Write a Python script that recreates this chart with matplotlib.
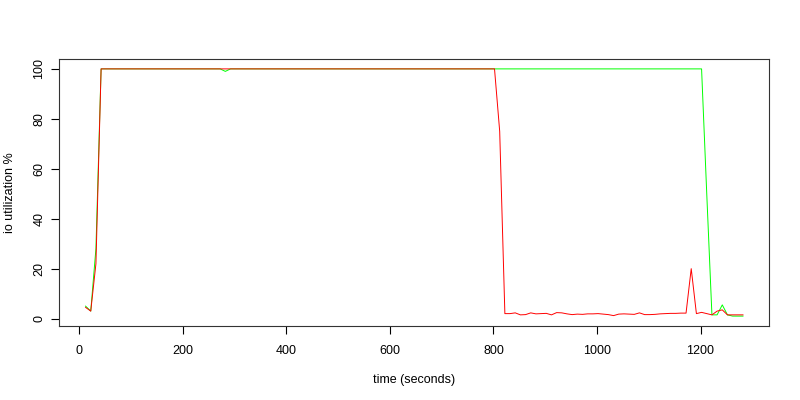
import matplotlib
matplotlib.use("Agg")
import matplotlib.pyplot as plt
import numpy as np

plt.rcParams["font.family"] = ["Liberation Sans", "DejaVu Sans"]

# sample times (seconds), one sample every 10 s
time_s = np.arange(12, 1283, 10)

# green run: saturated until ~1200 s
green_head = [5.0, 3.0, 28.0]
green_tail = [50.0, 1.5, 1.5, 5.5, 1.5, 1.0, 1.0, 1.0]
n_green_full = len(time_s) - len(green_head) - len(green_tail)
green_util = green_head + [100.0] * n_green_full + green_tail
green_util[time_s.tolist().index(282)] = 99.0

# red run: saturated until ~800 s, then idle with one spike
red_head = [4.5, 3.0, 22.0]
red_drop = [75.0]
red_idle = [2.0, 2.0, 2.3, 1.5, 1.6, 2.3, 1.9, 2.0, 2.1, 1.5, 2.4, 2.3,
            1.9, 1.6, 1.8, 1.7, 1.9, 1.9, 2.0, 1.8, 1.6, 1.2, 1.8, 1.9,
            1.8, 1.7, 2.3, 1.6, 1.6, 1.7, 1.9, 2.0, 2.1, 2.1, 2.2, 2.2,
            20.0, 2.0, 2.5, 2.0, 1.5, 3.0, 3.5, 1.5, 1.5, 1.5, 1.5]
n_red_full = len(time_s) - len(red_head) - len(red_drop) - len(red_idle)
red_util = red_head + [100.0] * n_red_full + red_drop + red_idle

fig = plt.figure(figsize=(8, 4), dpi=100)
ax = fig.add_axes([0.0741, 0.185, 0.8875, 0.6675])

ax.plot(time_s, green_util, color="#00FF00", lw=0.7)
ax.plot(time_s, red_util, color="#FF0000", lw=0.7)

ax.set_xlim(-38.8, 1332.8)
ax.set_ylim(-2.96, 103.96)
ax.set_xticks(np.arange(0, 1201, 200))
ax.set_yticks(np.arange(0, 101, 20))
ax.tick_params(direction="out", length=6, width=0.8, labelsize=9)
ax.tick_params(axis="x", pad=8)
ax.tick_params(axis="y", pad=4)
for lbl in ax.get_yticklabels():
    lbl.set_rotation(90)
    lbl.set_va("center")

for sp in ax.spines.values():
    sp.set_linewidth(0.8)
    sp.set_color("#333333")

ax.set_xlabel("time (seconds)", fontsize=9)
ax.set_ylabel("io utilization %", fontsize=9, va="center")
ax.xaxis.set_label_coords(0.5, -0.18)
ax.yaxis.set_label_coords(-0.0695, 0.5)

fig.savefig("out.png", dpi=100)
